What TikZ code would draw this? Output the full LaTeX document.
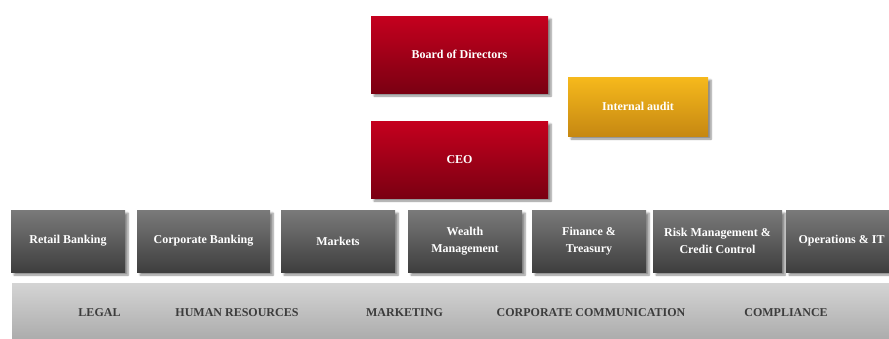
\documentclass[tikz,border=0pt]{standalone}
\usepackage{fontspec}
\setmainfont{Liberation Serif}
\usepackage{tikz}
\usetikzlibrary{shadows.blur}

\definecolor{redtop}{HTML}{C5001E}
\definecolor{redbottom}{HTML}{7A0012}
\definecolor{goldtop}{HTML}{F6B91C}
\definecolor{goldbottom}{HTML}{C68812}
\definecolor{unittop}{HTML}{7A7A7A}
\definecolor{unitbottom}{HTML}{3E3E3E}
\definecolor{bartop}{HTML}{D4D4D4}
\definecolor{barbottom}{HTML}{A2A2A2}
\definecolor{bartext}{HTML}{3C3C3C}

\begin{document}
\begin{tikzpicture}[x=1pt, y=-1pt,
        every node/.style={font=\bfseries\fontsize{12}{17}\selectfont, align=center, inner sep=0pt},
        box/.style={blur shadow={shadow xshift=3pt, shadow yshift=-3pt, shadow blur steps=6, shadow opacity=45}},
        redbox/.style={box, top color=redtop, bottom color=redbottom, text=white, minimum width=177pt, minimum height=77pt},
        auditbox/.style={box, top color=goldtop, bottom color=goldbottom, text=white, minimum width=140pt, minimum height=59pt},
        unitbox/.style={box, top color=unittop, bottom color=unitbottom, text=white, minimum height=62pt},
        staffbar/.style={top color=bartop, bottom color=barbottom},
        stafflabel/.style={text=bartext}]

        \useasboundingbox (0,0) rectangle (889,338);

        % management
        \node[redbox] (board) at (459.5,54.5) {Board of Directors};
        \node[auditbox] (audit) at (638,106.5) {Internal audit};
        \node[redbox] (ceo) at (459.5,159.5) {CEO};

        % business units
        \node[unitbox, minimum width=114pt] (retail) at (68,241) {Retail Banking};
        \node[unitbox, minimum width=133pt] (corporate) at (203.5,241) {Corporate Banking};
        \node[unitbox, minimum width=114pt] (markets) at (338,241) {Markets};
        \node[unitbox, minimum width=114pt] (wealth) at (465,241) {Wealth\\Management};
        \node[unitbox, minimum width=114pt] (finance) at (589,241) {Finance \&\\Treasury};
        \node[unitbox, minimum width=129pt] (risk) at (717.5,241) {Risk Management \&\\Credit Control};
        \node[unitbox, minimum width=111pt] (operations) at (841.5,241) {Operations \& IT};

        % support functions
        \node[staffbar, minimum width=890pt, minimum height=70pt, anchor=north west] (staff) at (12,283) {};
        \node[stafflabel] (legal) at (99.5,313) {LEGAL};
        \node[stafflabel] (hr) at (237,313) {HUMAN RESOURCES};
        \node[stafflabel] (marketing) at (404.5,313) {MARKETING};
        \node[stafflabel] (communication) at (591,313) {CORPORATE COMMUNICATION};
        \node[stafflabel] (compliance) at (786,313) {COMPLIANCE};

    \end{tikzpicture}
\end{document}
